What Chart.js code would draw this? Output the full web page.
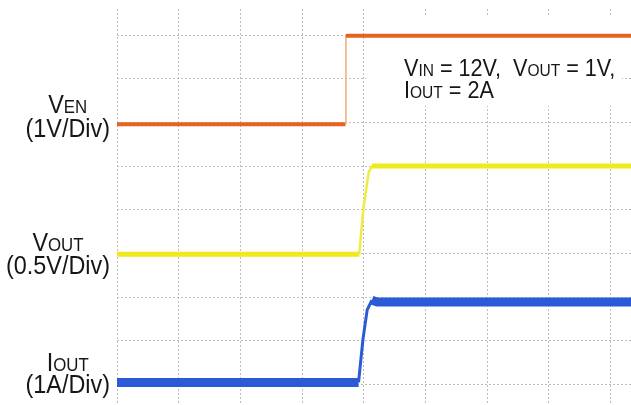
<!DOCTYPE html>
<html>
<head>
<meta charset="utf-8">
<script src="https://cdn.jsdelivr.net/npm/chart.js@4.4.0/dist/chart.umd.min.js"></script>
<style>
  html, body { margin: 0; padding: 0; background: #fff; }
  canvas { display: block; }
</style>
</head>
<body>
<canvas id="scope" width="631" height="405"></canvas>
<script>
const enX   = [0, 3.705, 3.712, 8.34];
const enY   = [5.96, 5.96, 7.98, 7.98];
const voutX = [0, 3.928, 3.993, 4.08, 4.13, 8.34];
const voutY = [2.98, 2.98, 4.0, 4.85, 5.0, 5.0];
const ioutX = [0, 3.917, 3.987, 4.057, 4.133, 4.22, 8.34];
const ioutY = [0.05, 0.05, 1.02, 1.71, 1.93, 1.89, 1.89];

// Beschriftungen: [Text, tiefgestellt?]
const enLabel   = [[['V', 0], ['EN', 1]], [['(1V/Div)', 0]]];
const voutLabel = [[['V', 0], ['OUT', 1]], [['(0.5V/Div)', 0]]];
const ioutLabel = [[['I', 0], ['OUT', 1]], [['(1A/Div)', 0]]];
const noteLines = [
  [['V', 0], ['IN', 1], [' = 12V,  V', 0], ['OUT', 1], [' = 1V,', 0]],
  [['I', 0], ['OUT', 1], [' = 2A', 0]]
];

const FONT = '"Liberation Sans", Arial, sans-serif';

function pts(xs, ys) {
  return xs.map((x, i) => ({ x: x, y: ys[i] }));
}

// steile Flanke duenner und heller zeichnen
function flanke(idx, width, color) {
  return {
    borderWidth: ctx => idx.includes(ctx.p0DataIndex) ? width : undefined,
    borderColor: ctx => idx.includes(ctx.p0DataIndex) ? color : undefined
  };
}

function richWidth(ctx, parts, size) {
  let w = 0;
  for (const [t, sub] of parts) {
    ctx.font = (sub ? size * 0.72 : size) + 'px ' + FONT;
    w += ctx.measureText(t).width;
  }
  return w;
}

function drawRich(ctx, parts, x, y, size, sx) {
  ctx.save();
  ctx.translate(x, y);
  ctx.scale(sx, 1);
  let cx = 0;
  for (const [t, sub] of parts) {
    ctx.font = (sub ? size * 0.72 : size) + 'px ' + FONT;
    ctx.fillText(t, cx, 0);
    cx += ctx.measureText(t).width;
  }
  ctx.restore();
}

function drawBlock(ctx, lines, right, base1, base2, size, sx) {
  const w1 = richWidth(ctx, lines[0], size) * sx;
  const w2 = richWidth(ctx, lines[1], size) * sx;
  const mid = right - w2 / 2;
  drawRich(ctx, lines[0], mid - w1 / 2, base1, size, sx);
  drawRich(ctx, lines[1], mid - w2 / 2, base2, size, sx);
}

const textPlugin = {
  id: 'scopeText',
  beforeDatasetsDraw(chart) {
    // weisses Feld hinter der Notiz, verdeckt das Raster
    const ctx = chart.ctx;
    ctx.save();
    ctx.fillStyle = '#fff';
    ctx.fillRect(366, 16, 256, 90);
    ctx.restore();
  },
  afterDraw(chart) {
    const ctx = chart.ctx;
    ctx.save();
    ctx.fillStyle = '#161616';
    ctx.textBaseline = 'alphabetic';
    drawBlock(ctx, enLabel, 110, 113, 137, 26, 0.9);
    drawBlock(ctx, voutLabel, 110, 251, 274, 26, 0.9);
    drawBlock(ctx, ioutLabel, 110, 371, 393, 26, 0.9);
    drawRich(ctx, noteLines[0], 404, 76, 24, 0.9);
    drawRich(ctx, noteLines[1], 404, 98, 24, 0.9);
    ctx.restore();
  }
};

const achse = (min, max) => ({
  type: 'linear',
  min: min,
  max: max,
  ticks: { display: false, stepSize: 1, includeBounds: false },
  grid: { color: '#bdbdbd', lineWidth: 1, drawTicks: false },
  border: { display: false, dash: [2, 2] }
});

new Chart(document.getElementById('scope'), {
  type: 'line',
  data: {
    datasets: [
      {
        label: 'VEN',
        data: pts(enX, enY),
        borderColor: '#e8621f',
        borderWidth: 4,
        segment: flanke([1], 1.5, '#f0ad78')
      },
      {
        label: 'VOUT',
        data: pts(voutX, voutY),
        borderColor: '#eeea1c',
        borderWidth: 5,
        segment: flanke([1, 2, 3], 2.5, '#efeb40')
      },
      {
        label: 'IOUT',
        data: pts(ioutX, ioutY),
        borderColor: '#2b5ad6',
        borderWidth: 9,
        segment: flanke([1, 2, 3], 3, '#2b5ad6')
      }
    ]
  },
  options: {
    responsive: false,
    animation: false,
    layout: { padding: { left: 117, top: 9, right: 0, bottom: 0 } },
    plugins: { legend: { display: false }, tooltip: { enabled: false } },
    elements: {
      point: { radius: 0 },
      line: { tension: 0, borderJoinStyle: 'round', borderCapStyle: 'butt' }
    },
    scales: {
      x: achse(0, 8.335),
      y: achse(-0.467, 8.595)
    }
  },
  plugins: [textPlugin]
});
</script>
</body>
</html>
